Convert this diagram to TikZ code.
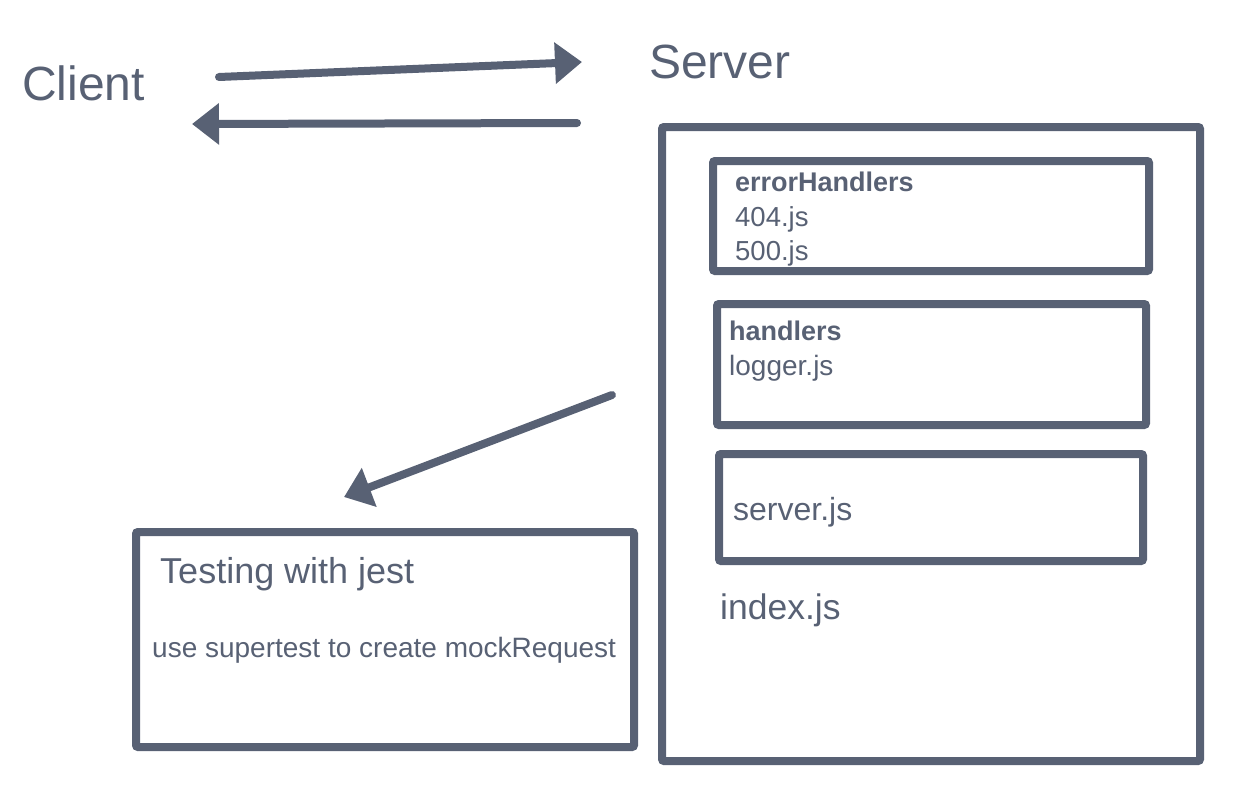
\documentclass[tikz,border=0pt]{standalone}
\usepackage{fontspec}
\setmainfont{Liberation Sans}
\usetikzlibrary{arrows.meta}
\definecolor{ink}{HTML}{586174}
\tikzset{
  px/.style={x=1pt,y=-1pt},
  frame/.style={draw=ink,line width=8pt,rounded corners=2pt,anchor=north west,inner sep=0pt,outer sep=0pt},
  lbl/.style={text=ink,anchor=base west,inner sep=0pt},
  flow/.style={draw=ink,line width=8pt,line cap=round,-{Triangle[length=27pt,width=40pt]}},
}
\newcommand{\fs}[1]{\fontsize{#1}{#1}\selectfont}
\begin{document}
\begin{tikzpicture}[px]
\useasboundingbox (0,0) rectangle (1254,808);
% titles
\node[lbl,font=\fs{48}] (client) at (22,101) {Client};
\node[lbl,font=\fs{48}] (server) at (649,79) {Server};
% request / response arrows
\coordinate (reqA) at (219,77);
\coordinate (reqB) at (582,62);
\coordinate (resA) at (577,123);
\coordinate (resB) at (192,124);
\draw[flow] (reqA) -- (reqB);
\draw[flow] (resA) -- (resB);
% server container and its modules
\node[frame,minimum width=538pt,minimum height=634pt] (srv) at (662,127) {};
\node[frame,minimum width=436pt,minimum height=110pt] (err) at (713,161) {};
\node[frame,minimum width=429pt,minimum height=121pt] (hdl) at (717,304) {};
\node[frame,minimum width=424pt,minimum height=107pt] (sjs) at (719,454) {};
\node[lbl,font=\fs{27}\bfseries] (errT) at (735,191) {errorHandlers};
\node[lbl,font=\fs{27.5}] (e404) at (735,226) {404.js};
\node[lbl,font=\fs{27.5}] (e500) at (735,260) {500.js};
\node[lbl,font=\fs{27}\bfseries] (hdlT) at (729,340) {handlers};
\node[lbl,font=\fs{28}] (logger) at (729,375) {logger.js};
\node[lbl,font=\fs{32}] (sjsT) at (733,520) {server.js};
\node[lbl,font=\fs{35.5}] (index) at (720,619) {index.js};
% testing box
\node[frame,minimum width=498pt,minimum height=215pt] (test) at (136,532) {};
\node[lbl,font=\fs{36}] (testT) at (160,583) {Testing with jest};
\node[lbl,font=\fs{28}] (mock) at (152,657) {use supertest to create mockRequest};
\coordinate (tstA) at (612,395);
\coordinate (tstB) at (344,497);
\draw[flow] (tstA) -- (tstB);
\end{tikzpicture}
\end{document}
